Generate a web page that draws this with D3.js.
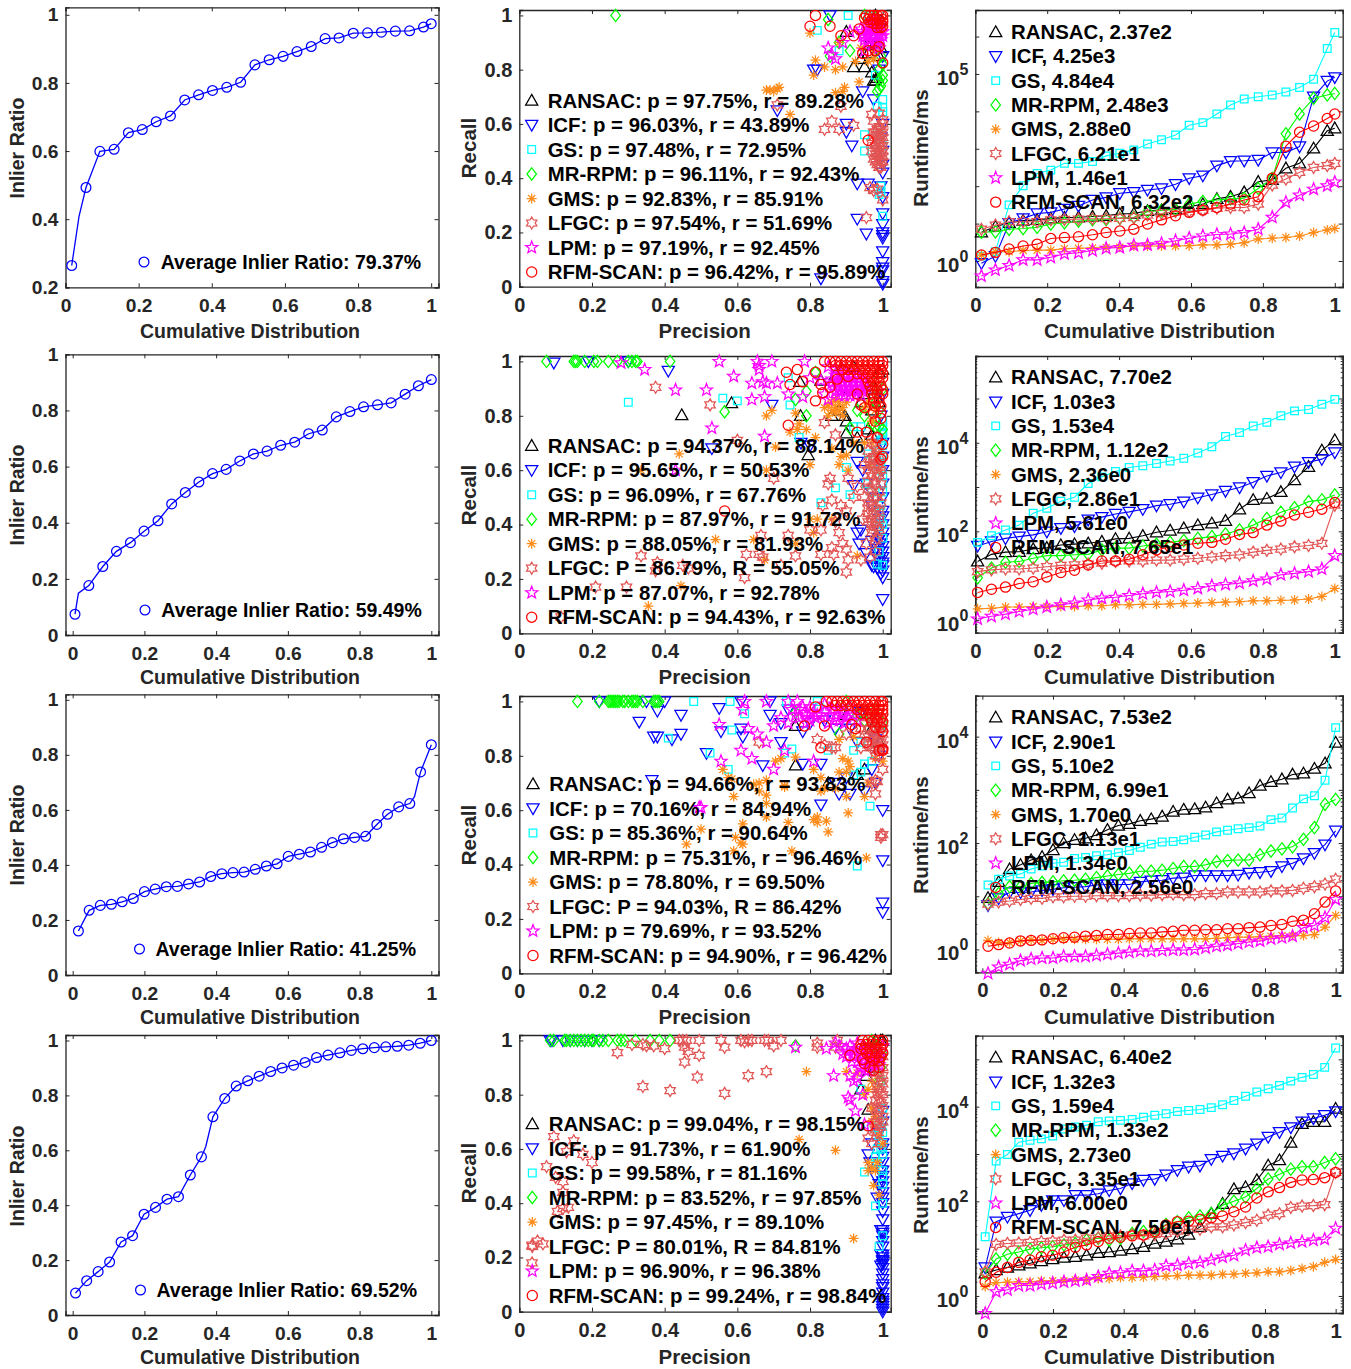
<!DOCTYPE html>
<html>
<head>
<meta charset="utf-8">
<script src="https://cdn.jsdelivr.net/npm/d3@7"></script>
<style>
body { margin: 0; background: #fff; }
text { font-family: "Liberation Sans", Arial, sans-serif; font-weight: bold; }
</style>
</head>
<body>
<svg id="chart" width="1351" height="1369"></svg>
<script>
const methods = ["RANSAC", "ICF", "GS", "MR-RPM", "GMS", "LFGC", "LPM", "RFM-SCAN"];

// cumulative distribution positions of the markers, one list per dataset
const cdfX1 = [.017,.056,.094,.133,.172,.21,.248,.287,.326,.364,.402,.441,.479,.518,.557,.595,.633,.672,.71,.748,.787,.826,.864,.902,.941,.979,1];
const cdfX2 = [.0065,.045,.084,.122,.161,.199,.238,.276,.314,.352,.39,.428,.466,.504,.542,.58,.619,.658,.696,.735,.773,.811,.85,.888,.927,.964,1];
const cdfX3 = [.016,.046,.077,.108,.138,.169,.2,.23,.261,.292,.323,.354,.385,.416,.447,.478,.509,.54,.57,.601,.632,.663,.694,.724,.755,.786,.817,.848,.878,.909,.94,.97,1];
const cdfX4 = [.008,.039,.071,.103,.135,.167,.199,.231,.263,.295,.328,.359,.391,.424,.456,.488,.52,.552,.584,.616,.648,.68,.712,.745,.777,.809,.841,.873,.905,.937,.969,1];

// inlier ratio
const inlier1 = [.264,.493,.599,.605,.654,.663,.686,.703,.75,.765,.778,.787,.802,.853,.868,.878,.892,.907,.93,.932,.946,.947,.949,.952,.953,.964,.974];
const inlier2 = [.074,.176,.244,.298,.329,.37,.407,.467,.508,.545,.575,.59,.62,.645,.655,.676,.687,.717,.73,.777,.796,.813,.82,.827,.858,.888,.91];
const inlier3 = [.16,.235,.253,.257,.266,.278,.303,.312,.321,.322,.331,.338,.358,.368,.372,.374,.384,.396,.404,.431,.439,.447,.464,.481,.495,.5,.504,.547,.584,.611,.623,.738,.837];
const inlier4 = [.08,.125,.158,.193,.266,.289,.367,.392,.422,.431,.51,.576,.722,.789,.834,.853,.87,.887,.9,.91,.92,.938,.947,.955,.964,.97,.974,.977,.979,.983,.99,1];
// bends of the line that fall between markers
const inlierBend1 = [[.037,.408]];
const inlierBend2 = [[.016,.149]];
const inlierBend3 = [[.953,.648]];
const inlierBend4 = [[.371,.613]];
const inlierLegend = ["Average Inlier Ratio: 79.37%", "Average Inlier Ratio: 59.49%", "Average Inlier Ratio: 41.25%", "Average Inlier Ratio: 69.52%"];

// precision / recall legends
const prLegend1 = ["RANSAC: p = 97.75%, r = 89.28%","ICF: p = 96.03%, r = 43.89%","GS: p = 97.48%, r = 72.95%","MR-RPM: p = 96.11%, r = 92.43%","GMS: p = 92.83%, r = 85.91%","LFGC: p = 97.54%, r = 51.69%","LPM: p = 97.19%, r = 92.45%","RFM-SCAN: p = 96.42%, r = 95.89%"];
const prLegend2 = ["RANSAC: p = 94.37%, r = 88.14%","ICF: p = 95.65%, r = 50.53%","GS: p = 96.09%, r = 67.76%","MR-RPM: p = 87.97%, r = 91.72%","GMS: p = 88.05%, r = 81.93%","LFGC: P = 86.79%, R = 55.05%","LPM: p = 87.07%, r = 92.78%","RFM-SCAN: p = 94.43%, r = 92.63%"];
const prLegend3 = ["RANSAC: p = 94.66%, r = 93.83%","ICF: p = 70.16%, r = 84.94%","GS: p = 85.36%, r = 90.64%","MR-RPM: p = 75.31%, r = 96.46%","GMS: p = 78.80%, r = 69.50%","LFGC: P = 94.03%, R = 86.42%","LPM: p = 79.69%, r = 93.52%","RFM-SCAN: p = 94.90%, r = 96.42%"];
const prLegend4 = ["RANSAC: p = 99.04%, r = 98.15%","ICF: p = 91.73%, r = 61.90%","GS: p = 99.58%, r = 81.16%","MR-RPM: p = 83.52%, r = 97.85%","GMS: p = 97.45%, r = 89.10%","LFGC: P = 80.01%, R = 84.81%","LPM: p = 96.90%, r = 96.38%","RFM-SCAN: p = 99.24%, r = 98.84%"];

// runtime legends
const rtLegend1 = ["RANSAC, 2.37e2","ICF, 4.25e3","GS, 4.84e4","MR-RPM, 2.48e3","GMS, 2.88e0","LFGC, 6.21e1","LPM, 1.46e1","RFM-SCAN, 6.32e2"];
const rtLegend2 = ["RANSAC, 7.70e2","ICF, 1.03e3","GS, 1.53e4","MR-RPM, 1.12e2","GMS, 2.36e0","LFGC, 2.86e1","LPM, 5.61e0","RFM-SCAN, 7.65e1"];
const rtLegend3 = ["RANSAC, 7.53e2","ICF, 2.90e1","GS, 5.10e2","MR-RPM, 6.99e1","GMS, 1.70e0","LFGC, 1.13e1","LPM, 1.34e0","RFM-SCAN, 2.56e0"];
const rtLegend4 = ["RANSAC, 6.40e2","ICF, 1.32e3","GS, 1.59e4","MR-RPM, 1.33e2","GMS, 2.73e0","LFGC, 3.35e1","LPM, 6.00e0","RFM-SCAN, 7.50e1"];

const rt1Ransac = [.77,.92,1.02,1.08,1.1,1.14,1.16,1.17,1.19,1.21,1.26,1.27,1.34,1.36,1.39,1.45,1.52,1.66,1.72,1.84,2.12,2.17,2.48,2.61,3.01,3.48,3.55];
const rt1Icf = [-.06,.13,1.01,1.14,1.27,1.3,1.39,1.47,1.63,1.7,1.81,1.84,1.9,1.94,2.05,2.21,2.28,2.55,2.67,2.68,2.7,2.9,2.9,3.06,4.39,4.81,4.91];
const rt1Gs = [.13,.25,1.5,2.01,2.34,2.43,2.61,2.61,2.66,2.81,2.88,2.97,3.13,3.24,3.37,3.63,3.7,3.93,4.17,4.33,4.39,4.44,4.52,4.64,4.86,5.68,6.11];
const rt1Mr = [.77,.78,.85,.87,.9,.99,1.02,1.07,1.1,1.11,1.14,1.17,1.32,1.35,1.38,1.52,1.59,1.63,1.66,1.68,1.94,2.21,3.4,3.93,4.35,4.44,4.48];
const rt1Gms = [.16,.25,.25,.28,.29,.29,.33,.34,.35,.36,.37,.4,.4,.4,.4,.41,.43,.43,.45,.49,.59,.61,.63,.67,.76,.83,.87];
const rt1Lfgc = [.85,.96,1.05,1.05,1.05,1.1,1.11,1.12,1.13,1.13,1.14,1.16,1.23,1.27,1.32,1.32,1.36,1.41,1.43,1.43,1.52,2.03,2.19,2.37,2.5,2.55,2.61];
const rt1Lpm = [-.4,-.24,-.12,.03,.03,.1,.19,.22,.28,.34,.36,.42,.43,.47,.54,.61,.67,.71,.72,.76,.85,1.17,1.57,1.76,1.92,2.01,2.11];
const rt1Rfm = [.16,.23,.32,.4,.45,.6,.63,.65,.7,.76,.8,.85,.99,1.1,1.21,1.3,1.36,1.43,1.52,1.63,1.72,2.21,3.07,3.44,3.61,3.81,3.93];

const rt2Ransac = [1.32,1.48,1.53,1.54,1.6,1.63,1.69,1.71,1.73,1.77,1.83,1.84,1.9,1.98,2.02,2.07,2.14,2.18,2.24,2.5,2.71,2.74,2.89,3.16,3.46,3.83,4.06];
const rt2Icf = [1.67,1.77,1.84,1.88,1.92,1.99,2.07,2.11,2.26,2.32,2.39,2.44,2.5,2.58,2.61,2.67,2.76,2.83,2.91,2.99,3.11,3.25,3.33,3.46,3.56,3.63,3.78];
const rt2Gs = [1.75,1.9,2.03,2.14,2.41,2.52,2.68,2.77,3.08,3.23,3.35,3.44,3.48,3.53,3.59,3.65,3.77,3.91,4.14,4.23,4.38,4.46,4.61,4.72,4.75,4.87,4.98];
const rt2Mr = [.95,1.17,1.3,1.32,1.39,1.45,1.45,1.47,1.48,1.58,1.62,1.62,1.67,1.71,1.75,1.79,1.84,1.88,1.94,2.03,2.14,2.29,2.43,2.53,2.67,2.71,2.82];
const rt2Gms = [.25,.26,.29,.29,.3,.3,.3,.3,.32,.32,.34,.34,.35,.35,.36,.37,.38,.39,.4,.41,.43,.43,.44,.45,.47,.53,.71];
const rt2Lfgc = [1.09,1.13,1.15,1.15,1.17,1.2,1.23,1.24,1.26,1.28,1.32,1.33,1.33,1.35,1.35,1.37,1.39,1.42,1.45,1.47,1.53,1.57,1.6,1.65,1.68,1.73,2.59];
const rt2Lpm = [.02,.08,.13,.19,.24,.29,.34,.38,.45,.49,.51,.55,.59,.62,.64,.67,.71,.77,.8,.83,.88,.92,1.02,1.05,1.09,1.15,1.45];
const rt2Rfm = [.62,.69,.74,.82,.86,.97,1.07,1.12,1.24,1.33,1.33,1.37,1.47,1.58,1.65,1.69,1.73,1.75,1.82,1.93,1.97,2.14,2.23,2.37,2.43,2.5,2.65];

const rt3Ransac = [.97,1.27,1.51,1.59,1.68,1.74,1.87,2,2.06,2.09,2.15,2.25,2.33,2.36,2.42,2.45,2.5,2.59,2.63,2.64,2.67,2.75,2.82,2.84,2.94,3.08,3.15,3.2,3.29,3.31,3.4,3.5,3.89];
const rt3Icf = [.83,.96,1.07,1.07,1.08,1.11,1.13,1.16,1.17,1.18,1.21,1.22,1.22,1.22,1.27,1.29,1.3,1.34,1.35,1.39,1.39,1.39,1.39,1.4,1.44,1.45,1.47,1.56,1.62,1.71,1.81,1.97,2.23];
const rt3Gs = [1.21,1.32,1.38,1.42,1.51,1.57,1.62,1.64,1.71,1.73,1.76,1.78,1.82,1.86,1.92,1.98,2.02,2.03,2.06,2.11,2.15,2.21,2.24,2.27,2.29,2.32,2.44,2.47,2.66,2.83,2.89,3.18,4.17];
const rt3Mr = [.86,1.05,1.18,1.18,1.24,1.26,1.27,1.29,1.3,1.32,1.35,1.38,1.41,1.43,1.47,1.47,1.49,1.52,1.56,1.56,1.59,1.65,1.67,1.68,1.68,1.78,1.85,1.89,1.93,2.07,2.29,2.73,2.82];
const rt3Gms = [.17,.13,.13,.16,.18,.17,.19,.19,.19,.19,.19,.19,.19,.2,.2,.2,.2,.2,.2,.2,.2,.21,.22,.23,.23,.24,.25,.26,.26,.26,.28,.42,.64];
const rt3Lfgc = [.85,.89,.91,.94,.96,.96,.99,.99,1,1,1.01,1.01,1.01,1.01,1.02,1.02,1.03,1.04,1.03,1.03,1.05,1.05,1.08,1.08,1.08,1.08,1.1,1.1,1.11,1.15,1.18,1.23,1.32];
const rt3Lpm = [-.45,-.33,-.28,-.21,-.18,-.16,-.16,-.13,-.13,-.13,-.11,-.09,-.07,-.05,-.03,-.03,-.02,-.01,-.01,0,.03,.06,.08,.11,.14,.16,.2,.22,.25,.41,.45,.6,.94];
const rt3Rfm = [.06,.09,.12,.16,.17,.18,.2,.22,.23,.25,.26,.28,.28,.3,.31,.31,.33,.34,.36,.36,.37,.37,.39,.39,.41,.42,.45,.47,.53,.55,.67,.89,1.1];

const rt4Ransac = [.48,.55,.6,.65,.69,.74,.78,.81,.83,.86,.91,.93,.96,.99,1.04,1.11,1.15,1.2,1.3,1.46,1.74,1.95,2.26,2.3,2.45,2.76,2.87,3.24,3.64,3.68,3.68,3.96];
const rt4Icf = [.6,1.57,1.67,1.74,1.81,1.92,2.02,2.02,2.13,2.13,2.16,2.23,2.27,2.38,2.45,2.47,2.56,2.66,2.73,2.75,2.89,2.96,3.01,3.11,3.22,3.36,3.46,3.56,3.68,3.75,3.82,3.9];
const rt4Gs = [1.25,2.85,2.99,3.25,3.29,3.32,3.38,3.53,3.57,3.61,3.68,3.7,3.71,3.73,3.78,3.82,3.85,3.9,3.92,3.94,3.98,4.04,4.13,4.22,4.31,4.38,4.45,4.54,4.62,4.68,4.83,5.24];
const rt4Mr = [.48,.78,.88,.93,.99,1.02,1.04,1.08,1.11,1.18,1.22,1.18,1.22,1.32,1.36,1.37,1.51,1.57,1.65,1.69,1.74,1.92,2,2.09,2.27,2.47,2.57,2.68,2.73,2.73,2.82,2.9];
const rt4Gms = [.2,.28,.29,.3,.3,.32,.32,.32,.34,.34,.37,.37,.39,.39,.4,.41,.42,.43,.44,.44,.44,.46,.46,.48,.49,.51,.51,.54,.58,.62,.71,.77];
const rt4Lfgc = [.51,1.09,1.11,1.12,1.13,1.15,1.16,1.18,1.18,1.22,1.23,1.27,1.27,1.29,1.27,1.3,1.32,1.37,1.41,1.41,1.46,1.46,1.5,1.55,1.6,1.71,1.74,1.87,1.9,1.91,1.93,2.61];
const rt4Lpm = [-.37,.09,.13,.22,.22,.25,.27,.3,.32,.34,.41,.48,.49,.53,.53,.55,.64,.65,.69,.71,.76,.82,.86,.97,1.02,1.04,1.09,1.12,1.15,1.18,1.2,1.43];
const rt4Rfm = [.3,.5,.6,.71,.76,.83,.86,.93,1.03,1.08,1.15,1.22,1.24,1.27,1.29,1.36,1.5,1.57,1.58,1.62,1.65,1.69,1.78,1.88,2.07,2.2,2.29,2.4,2.45,2.46,2.5,2.61];

// precision, recall pairs
const pr1Ransac = [[.9,.94],[.92,.81],[.95,.81],[.96,.86],[.97,.79],[.975,.76],[.98,.76],[.985,.77],[.99,.85],[.995,.88],[.98,.9],[.97,.92],[.99,.95],[.995,.98],[.98,1],[.96,.89],[.94,.84]];
const pr1Icf = [[.855,1],[.81,.8],[.82,.8],[.71,.65],[.9,.6],[.9,.57],[.915,.52],[.945,.72],[.975,.69],[.93,.38],[.96,.38],[.93,.25],[.955,.195],[.995,.37],[1,.33],[1,.27],[1,.23],[1,.2],[1,.19],[1,.18],[1,.13],[1,.09],[1,.07],[1,.06],[1,.02],[1,.01],[.83,.03],[1,.6],[.995,.55],[1,.5],[1,.45],[1,.42],[.99,.8],[1,.85],[.98,.97]];
const pr1Gs = [[.82,.945],[.905,1],[.88,.87],[.95,.56],[.95,.5],[.995,.37],[.995,.35],[.99,.34],[1,.26],[1,.69],[.985,.665],[1,.66],[1,.645],[.96,1],[.98,.78],[.99,.56],[1,.52]];
const pr1Mr = [[.265,1],[.85,.985],[.855,.85],[.88,.9],[.91,.87],[.985,.72],[.995,.74],[.99,.73],[1,.78],[1,.82],[.995,.85],[.98,.99],[.95,1],[.99,.8],[1,.76],[.99,.76]];
const pr1Gms = [[.8,.935],[.815,.835],[.81,.78],[.84,.81],[.87,.8],[.89,.81],[.925,.83],[.94,.88],[.88,.9],[.68,.725],[.69,.725],[.7,.72],[.71,.73],[.715,.735],[.745,.635],[.87,.715],[.89,.72],[.895,.735],[.935,.755],[.975,.84],[.99,.9],[.96,.83],[.98,.87]];
const pr1Lfgc = [[.71,.67],[.84,.58],[.86,.61],[.88,.58],[.92,.595],[.885,.665],[.975,.61],[.97,.635],[.99,.64],[1,.615],[.965,.365],[.975,.355],[.985,.36],[1,.32],[.955,.255],[.98,.46],[.985,.48],[.99,.44],[.995,.46],[1,.5],[.99,.5],[.98,.52],[.985,.54],[.995,.52],[1,.55],[.99,.56],[.995,.58],[1,.6],[.985,.58],[.975,.55],[.97,.5],[.975,.47],[.99,.47],[1,.46],[.995,.49],[.985,.51],[.99,.53],[1,.52],[.995,.55],[.985,.56],[1,.57],[.99,.59],[.975,.57],[.97,.53],[.98,.49],[.985,.45],[1,.48],[.99,.54],[.98,.57],[.995,.44]];
const pr1Lpm = [[.85,.88],[.86,.855],[.87,.84],[.89,.9],[.91,.94],[.95,.87],[.96,.9],[.97,.93],[.98,.95],[.99,.93],[1,.94],[.96,.96],[.97,.97],[.98,.9],[.99,.88],[.95,.92],[.94,.95],[.97,.89],[.985,.97],[.995,.97],[.975,.98],[.945,.94],[.96,.94],[.975,.94],[.99,.94],[.945,.925],[.96,.925],[.975,.925],[.99,.925],[1,.925],[.95,.91],[.965,.91],[.98,.91],[.995,.91],[.985,.89],[.965,.95],[.98,.965]];
const pr1Rfm = [[.815,1],[.8,.96],[.855,.96],[.885,.925],[.955,1],[.935,.95],[.92,.925],[.96,.87],[.945,.86],[.98,.87],[.99,.885],[1,.825],[.96,.54],[.965,1],[.975,1],[.985,1],[.995,1],[1,1],[.97,.985],[.98,.985],[.99,.985],[1,.985],[.975,.97],[.985,.97],[.995,.97],[.985,.955],[.995,.955],[1,.96],[.96,.985],[.95,.99],[.965,.975],[1,.975]];

const pr2Ransac = [[.447,.803],[.584,.847],[.795,.656],[.774,.8],[.772,.925],[.896,.8],[.9,.736],[.87,.95],[.83,.93],[.92,.98],[.95,.88],[.97,.82],[.93,.72],[.96,.75],[.98,.9],[.99,.96],[1,.97],[.9,.78],[.94,.85],[.97,.73],[.99,.85],[.86,.8],[.88,.82],[.91,.9]];
const pr2Icf = [[.095,.995],[.19,1],[.3,1],[.41,.965],[.53,.68],[.695,.84],[.775,.7],[.8,.69],[.92,.545],[.955,.55],[.93,.37],[.94,.38],[.935,.33],[.955,.295],[.97,.25],[.975,.245],[.985,.24],[1,.205],[1,.125],[1,.23],[1,.26],[1,.3],[1,.35],[1,.4],[1,.45],[1,.5],[1,.55],[1,.6],[1,.65],[1,.7],[.995,.8],[1,.88],[.99,.42],[.995,.33],[.985,.38],[.93,.63],[.945,.6],[.97,.47],[.98,.5],[.99,.27],[.995,.22],[.98,.31],[.97,.34],[1,.28],[1,.32],[1,.37],[1,.43],[.99,.35],[.99,.3],[.985,.28],[1,.25]];
const pr2Gs = [[.3,.85],[.56,.865],[.6,.855],[.745,.84],[.77,.72],[.9,.61],[.87,.535],[.83,.48],[.91,.51],[.92,.76],[.94,.76],[1,.735],[1,.72],[1,.69],[.955,.55],[.97,.52],[.99,.45],[1,.52],[1,.35],[1,.25],[.99,.3],[.985,.255],[1,.4],[.995,.6],[.98,.62],[.96,.66],[.74,.94],[.995,.47],[1,.58],[1,.65],[1,.78],[1,.76],[1,.74],[.995,.71],[.99,.67],[.995,.63],[1,.55],[.995,.42],[.99,.39]];
const pr2Mr = [[.075,1],[.15,1],[.155,1],[.16,1],[.18,1],[.205,1],[.215,1],[.245,1],[.27,1],[.3,1],[.31,1],[.32,1],[.325,1],[.415,1],[.565,.815],[.79,.8],[.76,.86],[.79,.89],[.815,.96],[.91,.755],[.97,.77],[.98,.76],[.99,.76],[1,.75],[.95,.8],[.98,.85],[.93,.82],[1,.9],[.99,.82],[.97,.9]];
const pr2Gms = [[.44,.66],[.335,.6],[.54,.345],[.645,.345],[.675,.27],[.355,.1],[.445,.175],[.68,.8],[.695,.82],[.705,.685],[.68,.6],[.77,.77],[.745,.74],[.79,.75],[.815,.72],[.8,.62],[.76,.33],[.8,.42],[.81,.37],[.885,.65],[.905,.6],[.9,.655],[.93,.285],[.85,.8],[.86,.85],[.87,.83],[.88,.82],[.89,.83],[.91,.88],[.95,.83],[.96,.85],[.97,.78],[.98,.82],[.76,.81],[.765,.75],[.95,.7],[.97,.7],[.98,.66],[.99,.6],[.82,.42],[.86,.42],[.88,.62],[.92,.7],[.86,.68],[.965,.62],[.85,.84],[.86,.82],[.87,.86],[.88,.85],[.89,.8],[.84,.83],[.9,.85],[.87,.81]];
const pr2Lfgc = [[.375,.905],[.525,.84],[.335,.285],[.21,.17],[.295,.17],[.375,.23],[.38,.26],[.45,.25],[.465,.24],[.115,.06],[.62,.205],[.72,.25],[.625,.29],[.66,.29],[.665,.36],[.67,.28],[.74,.36],[.76,.285],[.6,.71],[.7,.57],[.85,.55],[.855,.57],[.86,.49],[.87,.41],[.8,.38],[.83,.38],[.88,.37],[.86,.315],[.89,.33],[.83,.29],[.865,.29],[.9,.31],[.905,.27],[.9,.225],[.94,.27],[.93,.54],[.905,.57],[.92,.5],[.885,.47],[.9,.45],[.84,.775],[.87,.73],[.835,.47],[.96,.48],[.97,.47],[.98,.46],[.99,.45],[.97,.42],[.98,.41],[.96,.44],[.99,.38],[.975,.38],[.985,.35],[.97,.52],[.985,.5],[.995,.48],[.96,.53],[.98,.55],[.99,.58],[.97,.58],[.985,.62],[.965,.62],[.975,.65],[.99,.65],[.96,.67],[.98,.69],[.995,.6],[.995,.55],[.97,.7],[.985,.72],[.95,.62],[.95,.5],[.945,.42],[.955,.33],[.98,.3],[.965,.28],[.96,.46],[.975,.44],[.99,.42],[.96,.41],[.975,.5],[.99,.52],[.96,.56],[.975,.56],[.985,.59],[.96,.6],[.975,.61],[.99,.62],[.965,.64],[.98,.64],[.985,.67],[.97,.4],[.985,.39],[.97,.37],[.98,.34]];
const pr2Lpm = [[.28,.995],[.345,.97],[.43,.895],[.43,.6],[.515,.895],[.55,1],[.53,.755],[.59,.945],[.64,.92],[.64,.86],[.66,.97],[.655,1],[.66,.985],[.695,1],[.67,.925],[.68,.92],[.71,.92],[.675,.725],[.675,.87],[.74,.88],[.785,1],[.78,.87],[.8,.94],[.84,.88],[.85,.86],[.87,.95],[.885,.95],[.9,.95],[.915,.95],[.93,.95],[.86,.935],[.875,.935],[.89,.935],[.905,.935],[.92,.935],[.935,.935],[.95,.935],[.86,.92],[.875,.92],[.89,.92],[.905,.92],[.92,.92],[.935,.92],[.95,.92],[.865,.905],[.88,.905],[.895,.905],[.91,.905],[.925,.905],[.94,.905],[.955,.905],[.87,.89],[.885,.89],[.9,.89],[.915,.89],[.93,.89],[.945,.89],[.88,.875],[.895,.875],[.91,.875],[.925,.875],[.94,.875],[.87,.97],[.89,.97],[.85,.98],[.83,.93]];
const pr2Rfm = [[.565,.45],[.735,.96],[.765,.97],[.745,.915],[.78,.925],[.74,.765],[.815,.96],[.815,.855],[.83,.915],[.835,.885],[.855,.905],[.875,.935],[.905,.945],[.93,.88],[.94,.84],[.93,.74],[.955,.74],[.985,.72],[1,.695],[1,.65],[.995,.64],[.84,1],[.855,1],[.87,1],[.885,1],[.9,1],[.915,1],[.93,1],[.945,1],[.96,1],[.975,1],[.99,1],[1,1],[.87,.985],[.885,.985],[.9,.985],[.915,.985],[.93,.985],[.945,.985],[.96,.985],[.975,.985],[.99,.985],[1,.985],[.89,.97],[.905,.97],[.92,.97],[.935,.97],[.95,.97],[.965,.97],[.98,.97],[.995,.97],[.93,.955],[.945,.955],[.96,.955],[.975,.955],[.99,.955],[1,.955],[.955,.94],[.97,.94],[.985,.94],[1,.94],[.96,.925],[.975,.925],[.99,.925],[.965,.91],[.98,.91],[.995,.91],[.97,.895],[.985,.895],[1,.895],[.97,.88],[.985,.88],[1,.88],[.975,.865],[.99,.865],[.975,.85],[.99,.85],[.98,.835],[.995,.835],[.975,.81],[.995,.81],[.95,.83],[.98,.78],[.995,.79]];

const pr3Ransac = [[.76,.765],[.76,.91],[.9,.95],[.95,.75],[.99,.85],[.97,.9],[.93,.73],[.85,.7]];
const pr3Icf = [[.22,1],[.33,.925],[.37,.87],[.38,.87],[.38,.965],[.35,1],[.4,1],[.42,.86],[.445,.88],[.445,.95],[.365,.71],[.55,.975],[.555,.89],[.515,.81],[.61,.9],[.615,.87],[.61,1],[.67,.765],[.69,1],[.69,.95],[.72,.92],[.72,.85],[.78,.89],[.78,.77],[.8,.92],[.83,.77],[.83,.62],[.87,.7],[.88,.66],[.91,.66],[.95,.67],[1,.6],[1,.415],[1,.26],[1,.225],[.97,.75],[.93,.85],[.98,.86],[.87,.9],[.74,.97],[.9,.72],[.98,.7],[.99,.8],[.91,.9],[.84,.93],[.94,.96]];
const pr3Gs = [[.48,1],[.585,.895],[.58,1],[.62,.955],[.41,.865],[.525,.81],[.575,.75],[.735,1],[.82,1],[.825,.98],[.73,.81],[.75,.825],[.92,.73],[.94,.74],[.95,.77],[.965,.615],[.93,.395],[.85,.82],[.92,.82],[.94,.85],[.98,.93],[.97,.78],[.995,.9]];
const pr3Mr = [[.16,1],[.22,1],[.245,1],[.25,1],[.255,1],[.26,1],[.265,1],[.27,1],[.275,1],[.285,1],[.29,1],[.3,1],[.31,1],[.315,1],[.32,1],[.325,1],[.34,1],[.37,1],[.375,1],[.38,1],[.385,1],[.76,.96],[.88,.88],[.93,.95],[.95,.93],[1,.92],[.98,.97],[.9,1]];
const pr3Gms = [[.46,.475],[.5,.53],[.59,.45],[.595,.5],[.61,.48],[.615,.475],[.615,.55],[.56,.75],[.575,.72],[.585,.715],[.59,.65],[.645,.695],[.66,.67],[.66,.7],[.68,.71],[.68,.655],[.68,.625],[.68,.575],[.705,.78],[.72,.79],[.73,.69],[.74,.555],[.75,.45],[.76,.795],[.81,.565],[.82,.555],[.82,.575],[.845,.56],[.85,.52],[.905,.59],[.955,.425],[.81,.75],[.83,.72],[.87,.68],[.9,.65],[.95,.65],[.96,.7],[.88,.74],[.9,.74],[.91,.76],[.905,.78],[.89,.79],[.88,.86],[.92,.87],[.98,.79],[1,.78],[.84,.68],[.83,.67],[.73,.685]];
const pr3Lfgc = [[.66,.85],[1,.51],[.995,.51],[.995,.5],[.98,.66],[.985,.705],[.97,.7],[.98,.71],[1,.75],[.82,.86],[.84,.84],[.86,.83],[.87,.83],[.9,.88],[.94,.83],[.96,.84],[.97,.85],[.98,.83],[.99,.83],[1,.82],[.96,.9],[.97,.92],[.98,.94],[.99,.9],[1,.88],[.95,.96],[.97,.97],[.99,.96],[1,.94],[.98,.88],[.995,.85],[.975,.87],[.98,.8],[.99,.8],[.95,.92],[.96,.94],[.975,.9],[.985,.86],[.96,.87],[.95,.88],[1,.9],[.99,.88],[.995,.92],[.94,.9],[.97,.83],[1,.84]];
const pr3Lpm = [[.495,.61],[.5,.61],[.555,.78],[.55,.915],[.61,.82],[.64,.79],[.63,.9],[.655,.88],[.68,.85],[.7,.75],[.615,.97],[.62,1],[.68,1],[.73,.82],[.74,1],[.765,1],[.7,.91],[.72,.94],[.74,.92],[.75,.97],[.77,.97],[.79,.95],[.8,.93],[.81,.96],[.78,.98],[.8,.98],[.82,.95],[.81,.78],[.86,.97],[.87,.95],[.88,.93],[.89,.96],[.9,.94],[.91,.98],[.92,.95],[.93,.93],[.85,.92],[.84,.99],[.79,.92],[.76,.95],[.77,.94],[.785,.96],[.8,.96],[.815,.94],[.83,.95],[.84,.96],[.855,.95],[.865,.93],[.875,.97],[.885,.95],[.895,.92],[.91,.95]];
const pr3Rfm = [[.785,.91],[.84,.91],[.83,.83],[.915,.915],[.925,.9],[.955,.85],[.99,.82],[1,.825],[1,.82],[.845,1],[.86,1],[.875,1],[.89,1],[.905,1],[.92,1],[.935,1],[.95,1],[.965,1],[.98,1],[.995,1],[1,1],[.87,.985],[.885,.985],[.9,.985],[.915,.985],[.93,.985],[.945,.985],[.96,.985],[.975,.985],[.99,.985],[1,.985],[.93,.97],[.945,.97],[.96,.97],[.975,.97],[.99,.97],[1,.97],[.94,.955],[.955,.955],[.97,.955],[.985,.955],[1,.955],[.965,.94],[.98,.94],[.995,.94],[.97,.925],[.985,.925],[1,.925],[.98,.905],[.995,.905],[1,.89],[.815,.98]];

const pr4Ransac = [[.96,.745],[.94,.82],[.98,.9],[.99,.95],[.995,1],[.98,1],[1,1],[.97,.93],[.955,.87],[.985,.97]];
const pr4Icf = [[.085,1],[.09,1],[.12,1],[.14,1],[.16,1],[.18,1],[.2,1],[.22,1],[.97,.62],[.96,.58],[.965,.55],[.98,.5],[.99,.47],[.985,.42],[1,.62],[1,.6],[1,.55],[1,.52],[1,.48],[1,.44],[1,.4],[1,.37],[1,.34],[1,.3],[1,.28],[1,.26],[1,.24],[1,.21],[1,.2],[1,.185],[1,.175],[1,.16],[1,.14],[1,.1],[1,.09],[1,.07],[1,.05],[1,.04],[1,.03],[1,.02],[1,.01],[1,0],[.995,.52],[1,.7],[1,.74],[.99,.66],[1,.12],[1,.19],[.995,.17],[.995,.21],[1,.29],[.995,.3],[1,.42],[1,.46],[1,.5],[1,.57]];
const pr4Gs = [[.94,.82],[.95,.515],[.98,.39],[.99,.24],[1,.5],[1,.52],[1,.58],[1,.62],[1,.7],[.99,.65],[.98,.57],[1,.47],[1,.4],[.985,.6],[1,.75],[.995,.85],[.97,.68],[1,.28],[.99,.7],[1,.66],[.995,.6],[.985,.55]];
const pr4Mr = [[.085,1],[.095,1],[.125,1],[.13,1],[.14,1],[.15,1],[.16,1],[.17,1],[.18,1],[.19,1],[.2,1],[.205,1],[.22,1],[.23,1],[.245,1],[.27,1],[.28,1],[.29,1],[.32,1],[.36,1],[.385,1],[.415,1],[.76,.98],[.99,.85],[1,.95],[.98,.98],[.995,.9],[.97,1]];
const pr4Gms = [[.79,.885],[.77,.635],[.87,.595],[.92,.27],[.9,.885],[.96,.55],[.97,.53],[.96,.52],[.98,.52],[.985,.55],[.975,.465],[.99,.43],[.95,.8],[.97,.75],[.98,.72],[.97,.7],[.99,.65],[1,.62],[.96,.82],[.98,.82],[.93,.88],[.97,.85]];
const pr4Lfgc = [[.27,.955],[.31,.985],[.34,.985],[.35,.98],[.37,.98],[.4,.97],[.44,1],[.45,1],[.46,1],[.455,.975],[.465,.96],[.455,.92],[.49,.865],[.495,.945],[.495,1],[.555,1],[.565,.975],[.565,.805],[.61,1],[.62,.995],[.63,1],[.64,1],[.63,.87],[.675,1],[.68,.885],[.685,1],[.7,.98],[.72,1],[.34,.83],[.415,.815],[.82,.975],[.82,.99],[.875,1],[.87,.975],[.095,.645],[.13,.59],[.15,.63],[.175,.58],[.2,.55],[.075,.535],[.1,.495],[.12,.48],[.12,.44],[.105,.37],[.12,.38],[.135,.385],[.035,.245],[.05,.26],[.065,.25],[.035,.18],[.97,.62],[.96,.64],[.98,.7],[.985,.72],[.99,.74],[1,.76],[.99,.78],[1,.8],[.99,.82],[1,.84],[.98,.86],[.99,.88],[1,.9],[.985,.66],[1,.7],[.995,.62],[.99,.92],[1,.94],[.97,.75],[.98,.67],[.995,.68],[.985,.69],[1,.72],[.985,.75],[.995,.77],[.98,.78],[.985,.8],[.995,.81],[.985,.83],[.995,.85],[1,.87],[.985,.88]];
const pr4Lpm = [[.76,.975],[.845,.97],[.87,.99],[.865,.87],[.905,.96],[.91,.98],[.92,.94],[.93,.92],[.94,.9],[.91,.87],[.92,.85],[.905,.79],[.91,.78],[.925,.74],[.945,.8],[.95,.69],[.93,.99],[.94,.96],[.96,.97],[.98,.96],[1,.98],[.97,.94],[.95,.93],[.9,.97],[.88,.98],[.93,.86],[.96,.89],[.92,.96],[.99,.94],[.89,.95],[.915,.92],[.93,.95],[.945,.945],[.96,.93],[.975,.915],[.99,.91],[.95,.97],[.98,.93],[.9,.94],[.935,.9],[.95,.89],[.965,.91]];
const pr4Rfm = [[.96,.685],[.91,.945],[.94,.97],[.945,.93],[.95,.915],[.965,.9],[.975,.89],[.99,.9],[.945,1],[.96,1],[.975,1],[.99,1],[1,1],[.94,.985],[.955,.985],[.97,.985],[.985,.985],[1,.985],[.95,.97],[.965,.97],[.98,.97],[.995,.97],[.955,.955],[.97,.955],[.985,.955],[1,.955],[.965,.94],[.98,.94],[.995,.94],[.975,.925],[.99,.925]];

const dark = "#262626";
const colors = ["#000000", "#0000ff", "#00ffff", "#00ff00", "#ff8c1a", "#e25555", "#ff00ff", "#ff0000"];

// custom marker shapes, the size argument is used as the radius
function star(points, inner) {
    return { draw(c, r) {
        for (let i = 0; i < points * 2; i++) {
            const a = Math.PI * i / points - Math.PI / 2;
            const l = i % 2 ? r * inner : r;
            if (i == 0) c.moveTo(l * Math.cos(a), l * Math.sin(a));
            else c.lineTo(l * Math.cos(a), l * Math.sin(a));
        }
        c.closePath();
    }};
}
function poly(pts) {
    return { draw(c, r) {
        pts.forEach((p, i) => i == 0 ? c.moveTo(p[0] * r, p[1] * r) : c.lineTo(p[0] * r, p[1] * r));
        c.closePath();
    }};
}
const asterisk = { draw(c, r) {
    for (let i = 0; i < 4; i++) {
        const a = Math.PI * i / 4;
        c.moveTo(-r * Math.cos(a), -r * Math.sin(a));
        c.lineTo(r * Math.cos(a), r * Math.sin(a));
    }
}};
const circle = { draw(c, r) { c.moveTo(r, 0); c.arc(0, 0, r, 0, 2 * Math.PI); } };
const symbols = [poly([[0,-1],[1,.75],[-1,.75]]), poly([[0,1],[1,-.75],[-1,-.75]]), poly([[-.8,-.8],[.8,-.8],[.8,.8],[-.8,.8]]), poly([[0,-1.1],[.85,0],[0,1.1],[-.85,0]]), asterisk, star(6, .58), star(5, .42), circle];
const radii = [6.1, 6.1, 4.8, 5.6, 5, 6, 6.4, 5.1];

const svg = d3.select("#chart");

function marker(g, type, r, color, x, y) {
    g.append("path")
        .attr("d", d3.symbol().type(type).size(r)())
        .attr("transform", `translate(${x},${y})`)
        .attr("fill", "none")
        .attr("stroke", color)
        .attr("stroke-width", 1.25);
}

// box with inward ticks on all four sides
function box(b, x, y, xTicks, yTicks, yFormat, minor, fs) {
    const g = svg.append("g");
    const fmt = d3.format("~g");
    const xAxis = d3.axisBottom(x).tickValues(xTicks).tickSize(-4).tickPadding(25 - .71 * fs).tickFormat(fmt);
    const xTop = d3.axisTop(x).tickValues(xTicks).tickSize(-4).tickFormat("");
    const yAxis = d3.axisLeft(y).tickValues(yTicks).tickSize(-4).tickPadding(7).tickFormat(yFormat || fmt);
    const yRight = d3.axisRight(y).tickValues(yTicks).tickSize(-4).tickFormat("");
    g.append("g").attr("transform", `translate(0,${b.bottom})`).call(xAxis);
    g.append("g").attr("transform", `translate(0,${b.top})`).call(xTop);
    g.append("g").attr("transform", `translate(${b.left},0)`).call(yAxis);
    g.append("g").attr("transform", `translate(${b.right},0)`).call(yRight);
    if (minor) {
        g.append("g").attr("transform", `translate(${b.left},0)`).call(d3.axisLeft(y).tickValues(minor).tickSize(-2).tickFormat(""));
        g.append("g").attr("transform", `translate(${b.right},0)`).call(d3.axisRight(y).tickValues(minor).tickSize(-2).tickFormat(""));
    }
    g.selectAll("path.domain").attr("stroke", dark).attr("stroke-width", 1.3);
    g.selectAll(".tick line").attr("stroke", dark).attr("stroke-width", 1);
    g.selectAll(".tick text").attr("fill", dark).style("font-size", fs + "px");
    g.attr("font-family", null);
}

function label(text, x, y, fs, rotate) {
    const t = svg.append("text")
        .attr("text-anchor", "middle")
        .attr("fill", dark)
        .style("font-size", fs + "px")
        .text(text);
    if (rotate) t.attr("transform", `translate(${x},${y}) rotate(-90)`);
    else t.attr("x", x).attr("y", y);
}

function legend(g, items, mx, tx, y0, step) {
    items.forEach((d, i) => {
        const y = y0 + i * step;
        marker(g, symbols[i], radii[i], colors[i], mx, y);
        g.append("text").attr("x", tx).attr("y", y + 7).attr("fill", "#000").style("font-size", "20.4px").text(d);
    });
}

const cdfTicks = [0, .2, .4, .6, .8, 1];

function inlierPanel(b, xDomain, yDomain, yTicks, cdf, values, bend, text, mx, my, tx, labelY, ylY) {
    const x = d3.scaleLinear().domain(xDomain).range([b.left, b.right]);
    const y = d3.scaleLinear().domain(yDomain).range([b.bottom, b.top]);
    box(b, x, y, cdfTicks, yTicks, null, null, 19.2);
    const pts = cdf.map((c, i) => [c, values[i]]);
    const linePts = pts.concat(bend).sort((p, q) => p[0] - q[0]);
    const g = svg.append("g");
    g.append("path")
        .attr("d", d3.line().x(d => x(d[0])).y(d => y(d[1]))(linePts))
        .attr("fill", "none").attr("stroke", "#0000ff").attr("stroke-width", 1.3);
    pts.forEach(p => marker(g, circle, 4.9, "#0000ff", x(p[0]), y(p[1])));
    marker(g, circle, 4.9, "#0000ff", mx, my);
    g.append("text").attr("x", tx).attr("y", my + 7).attr("fill", "#000").style("font-size", "19.5px").text(text);
    label("Cumulative Distribution", 250, labelY, 19.5);
    label("Inlier Ratio", 24, ylY, 19.5, true);
}

function prPanel(b, data, items, mx, tx, y0, labelY, ylY) {
    const x = d3.scaleLinear().domain([0, 1.022]).range([b.left, b.right]);
    const y = d3.scaleLinear().domain([0, 1.02]).range([b.bottom, b.top]);
    box(b, x, y, cdfTicks, cdfTicks, null, null, 20);
    const g = svg.append("g");
    data.forEach((s, i) => {
        s.forEach(p => marker(g, symbols[i], radii[i], colors[i], x(p[0]), y(p[1])));
    });
    legend(g, items, mx, tx, y0, 24.5);
    label("Precision", 704.7, labelY, 20.5);
    label("Recall", 476, ylY, 20.5, true);
}

function rtPanel(b, xDomain, expDomain, labelled, cdf, data, items, y0, labelY, ylY, withMinor) {
    const x = d3.scaleLinear().domain(xDomain).range([b.left, b.right]);
    const y = d3.scaleLog().domain([Math.pow(10, expDomain[0]), Math.pow(10, expDomain[1])]).range([b.bottom, b.top]);
    const decades = d3.range(Math.ceil(expDomain[0]), Math.floor(expDomain[1]) + 1);
    let minor = null;
    if (withMinor) {
        minor = [];
        d3.range(Math.floor(expDomain[0]), Math.ceil(expDomain[1])).forEach(e => {
            d3.range(2, 10).forEach(m => {
                const v = m * Math.pow(10, e);
                if (v >= y.domain()[0] && v <= y.domain()[1]) minor.push(v);
            });
        });
    }
    box(b, x, y, cdfTicks, decades.map(e => Math.pow(10, e)), () => "", minor, 20.4);
    // exponent labels only on some decades
    const tg = svg.append("g");
    labelled.forEach(e => {
        const t = tg.append("text")
            .attr("x", b.left - 7).attr("y", y(Math.pow(10, e)) + 11)
            .attr("text-anchor", "end").attr("fill", dark)
            .style("font-size", "20.4px").text("10");
        t.append("tspan").attr("dy", -10).style("font-size", "16px").text(e);
    });
    const line = d3.line().x(d => x(d[0])).y(d => y(d[1]));
    const g = svg.append("g");
    data.forEach((s, i) => {
        const pts = cdf.map((c, k) => [c, Math.pow(10, s[k])]);
        g.append("path").attr("d", line(pts)).attr("fill", "none").attr("stroke", colors[i]).attr("stroke-width", 1.1);
        pts.forEach(p => marker(g, symbols[i], radii[i], colors[i], x(p[0]), y(p[1])));
    });
    legend(g, items, 995.7, 1011, y0, 24.3);
    label("Cumulative Distribution", 1159.5, labelY, 20.5);
    label("Runtime/ms", 928, ylY, 20.5, true);
}

const col1 = { left: 65.5, right: 438.5 };
const col2 = { left: 519.3, right: 890.7 };
const col3 = { left: 975.3, right: 1342.7 };

inlierPanel({ ...col1, top: 7.3, bottom: 287.3 }, [0, 1.02], [.2, 1.022], [.2, .4, .6, .8, 1], cdfX1, inlier1, inlierBend1, inlierLegend[0], 144, 262, 160.7, 338, 148);
inlierPanel({ ...col1, top: 354.3, bottom: 635 }, [-.02, 1.02], [0, 1], cdfTicks, cdfX2, inlier2, inlierBend2, inlierLegend[1], 145, 610, 161.3, 684, 495);
inlierPanel({ ...col1, top: 694.3, bottom: 975 }, [-.02, 1.02], [0, 1.02], cdfTicks, cdfX3, inlier3, inlierBend3, inlierLegend[2], 139.5, 949, 155.5, 1024, 835);
inlierPanel({ ...col1, top: 1035, bottom: 1315 }, [-.02, 1.02], [0, 1.02], cdfTicks, cdfX4, inlier4, inlierBend4, inlierLegend[3], 140.5, 1290, 156.5, 1364, 1176);

prPanel({ ...col2, top: 10, bottom: 286.7 }, [pr1Ransac, pr1Icf, pr1Gs, pr1Mr, pr1Gms, pr1Lfgc, pr1Lpm, pr1Rfm], prLegend1, 531.7, 547.7, 100.5, 338, 148);
prPanel({ ...col2, top: 356, bottom: 633.3 }, [pr2Ransac, pr2Icf, pr2Gs, pr2Mr, pr2Gms, pr2Lfgc, pr2Lpm, pr2Rfm], prLegend2, 531.7, 547.7, 445.7, 684, 495);
prPanel({ ...col2, top: 696, bottom: 973.3 }, [pr3Ransac, pr3Icf, pr3Gs, pr3Mr, pr3Gms, pr3Lfgc, pr3Lpm, pr3Rfm], prLegend3, 533, 549.3, 784, 1024, 835);
prPanel({ ...col2, top: 1035, bottom: 1311.7 }, [pr4Ransac, pr4Icf, pr4Gs, pr4Mr, pr4Gms, pr4Lfgc, pr4Lpm, pr4Rfm], prLegend4, 532.3, 548.7, 1124, 1364, 1173);

rtPanel({ ...col3, top: 10, bottom: 287 }, [0, 1.022], [-.695, 6.71], [0, 5], cdfX1, [rt1Ransac, rt1Icf, rt1Gs, rt1Mr, rt1Gms, rt1Lfgc, rt1Lpm, rt1Rfm], rtLegend1, 32, 338, 148, false);
rtPanel({ ...col3, top: 356, bottom: 632.7 }, [0, 1.022], [-.29, 5.96], [0, 2, 4], cdfX2, [rt2Ransac, rt2Icf, rt2Gs, rt2Mr, rt2Gms, rt2Lfgc, rt2Lpm, rt2Rfm], rtLegend2, 377.3, 684, 495, true);
rtPanel({ ...col3, top: 695.7, bottom: 972.3 }, [-.02, 1.02], [-.43, 4.77], [0, 2, 4], cdfX3, [rt3Ransac, rt3Icf, rt3Gs, rt3Mr, rt3Gms, rt3Lfgc, rt3Lpm, rt3Rfm], rtLegend3, 717.3, 1024, 835, true);
rtPanel({ ...col3, top: 1035.7, bottom: 1313 }, [-.02, 1.02], [-.36, 5.5], [0, 2, 4], cdfX4, [rt4Ransac, rt4Icf, rt4Gs, rt4Mr, rt4Gms, rt4Lfgc, rt4Lpm, rt4Rfm], rtLegend4, 1057.3, 1364, 1175, true);
</script>
</body>
</html>
